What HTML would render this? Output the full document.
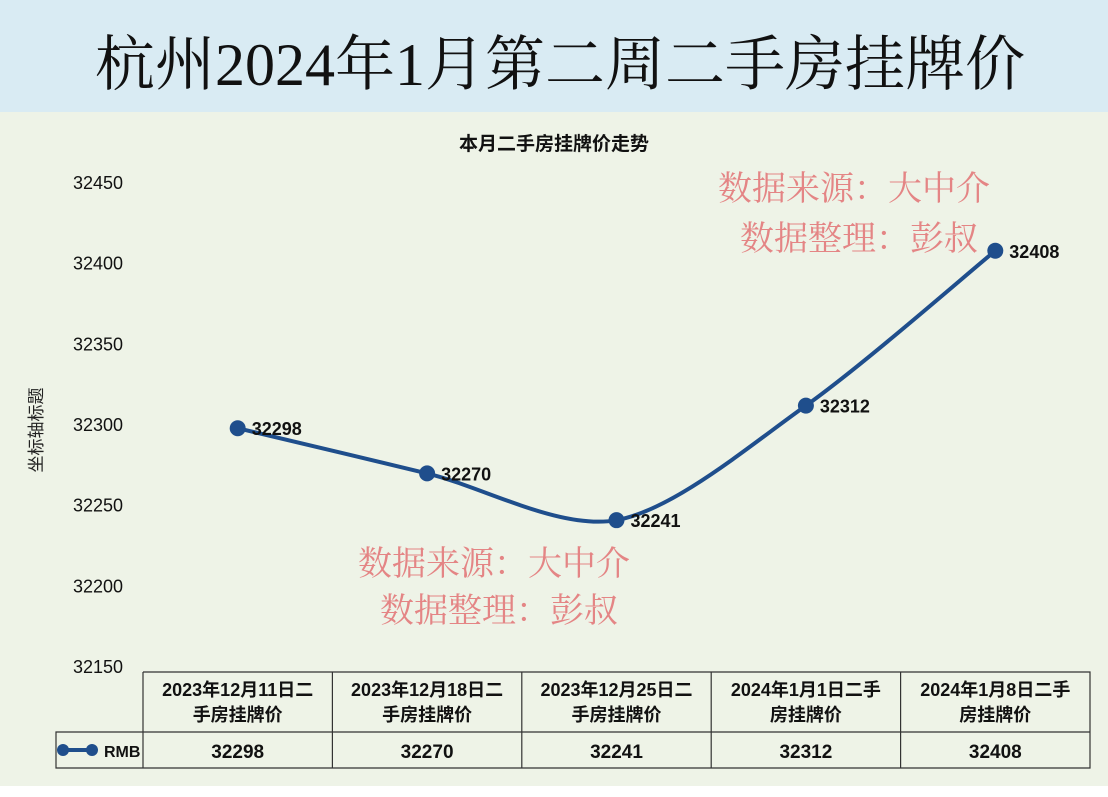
<!DOCTYPE html>
<html><head><meta charset="utf-8"><style>
body{margin:0;width:1108px;height:792px;overflow:hidden;background:#fff;font-family:"Liberation Sans","Noto Sans CJK SC",sans-serif}
</style></head><body>
<svg width="1108" height="792" xmlns="http://www.w3.org/2000/svg" id="chart">
<rect x="0" y="0" width="1108" height="112" fill="#d9ebf3"/>
<rect x="0" y="112" width="1108" height="674" fill="#eef3e7"/>
<text x="560" y="85" text-anchor="middle" font-family="'Liberation Serif','Noto Serif CJK SC',serif" font-size="60" fill="#111">杭州2024年1月第二周二手房挂牌价</text>
<text x="554" y="150" text-anchor="middle" font-size="19" font-weight="bold" fill="#111">本月二手房挂牌价走势</text>
<text transform="translate(42,430) rotate(-90)" text-anchor="middle" font-size="17" fill="#222">坐标轴标题</text>
<g id="yticks"></g>
<g font-family="'Liberation Serif','Noto Serif CJK SC',serif" font-size="34" fill="#e48585">
<text x="718" y="200">数据来源：大中介</text>
<text x="740" y="250">数据整理：彭叔</text>
<text x="358" y="575">数据来源：大中介</text>
<text x="380" y="622">数据整理：彭叔</text>
</g>
<path id="line" fill="none" stroke="#1f4e8c" stroke-width="4"/>
<g id="pts"></g>
<g id="table"></g>
</svg>
<script>
const categories=["2023年12月11日二|手房挂牌价","2023年12月18日二|手房挂牌价","2023年12月25日二|手房挂牌价","2024年1月1日二手|房挂牌价","2024年1月8日二手|房挂牌价"];
const values=[32298,32270,32241,32312,32408];
const yTicks=[32150,32200,32250,32300,32350,32400,32450];
const NS="http://www.w3.org/2000/svg";
const yMin=32150,yMax=32450,yTop=183,yBot=667;
const colL=143,colW=189.4;
function y(v){return yBot-(v-yMin)/(yMax-yMin)*(yBot-yTop);}
function x(i){return colL+colW*(i+0.5);}
function mk(t,a,p){const e=document.createElementNS(NS,t);for(const k in a)e.setAttribute(k,a[k]);(p||document.getElementById('chart')).appendChild(e);return e;}
const yg=document.getElementById('yticks');
yTicks.forEach(v=>{const t=mk('text',{x:98,y:y(v)+6,'text-anchor':'middle','font-size':18,fill:'#111'},yg);


t.textContent=v;});
const P=values.map((v,i)=>[x(i),y(v)]);
let d='M'+P[0][0]+','+P[0][1];
for(let i=0;i<P.length-1;i++){const p0=P[Math.max(i-1,0)],p1=P[i],p2=P[i+1],p3=P[Math.min(i+2,P.length-1)];const k=0.3;
d+=' C'+(p1[0]+(p2[0]-p0[0])*k*0.5)+','+(p1[1]+(p2[1]-p0[1])*k*0.5)+' '+(p2[0]-(p3[0]-p1[0])*k*0.5)+','+(p2[1]-(p3[1]-p1[1])*k*0.5)+' '+p2[0]+','+p2[1];}
document.getElementById('line').setAttribute('d',d);
const pg=document.getElementById('pts');
P.forEach((p,i)=>{const c=mk('circle',{cx:p[0],cy:p[1],r:8,fill:'#1f4e8c'},pg);


const t=mk('text',{x:p[0]+14,y:p[1]+7,'font-size':18,'font-weight':'bold',fill:'#111'},pg);


t.textContent=values[i];});
const tg=document.getElementById('table');
const tTop=672,tMid=732,tBot=768,tR=colL+colW*5;
mk('path',{d:`M${colL},${tTop}H${tR}V${tBot}H56V${tMid}H${tR}M${colL},${tTop}V${tBot}`,fill:'none',stroke:'#333','stroke-width':1.2},tg);
categories.forEach((c,i)=>{const cx=x(i);
if(i>0)mk('line',{x1:colL+colW*i,y1:tTop,x2:colL+colW*i,y2:tBot,stroke:'#333','stroke-width':1.2},tg);
const parts=c.split('|');
parts.forEach((s,j)=>{const t=mk('text',{x:cx,y:tTop+24+j*25,'text-anchor':'middle','font-size':18,'font-weight':'bold',fill:'#111'},tg);


t.textContent=s;});
const v=mk('text',{x:cx,y:tMid+26,'text-anchor':'middle','font-size':19,'font-weight':'bold',fill:'#111'},tg);


v.textContent=values[i];});
const lg=mk('g',{},tg);


mk('line',{x1:63,y1:750,x2:92,y2:750,stroke:'#1f4e8c','stroke-width':4},lg);
mk('circle',{cx:63,cy:750,r:6,fill:'#1f4e8c'},lg);
mk('circle',{cx:92,cy:750,r:6,fill:'#1f4e8c'},lg);
const lt=mk('text',{x:104,y:757,'font-size':16,'font-weight':'bold',fill:'#111'},lg);
lt.textContent='RMB';
</script>
</body></html>
